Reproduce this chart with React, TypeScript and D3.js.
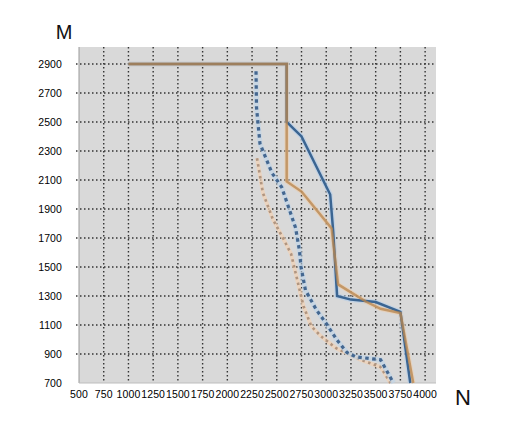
import React from "react";
import * as d3 from "d3";

type Pt = [number, number];

const xTicks = [500, 750, 1000, 1250, 1500, 1750, 2000, 2250, 2500, 2750, 3000, 3250, 3500, 3750, 4000];
const yTicks = [700, 900, 1100, 1300, 1500, 1700, 1900, 2100, 2300, 2500, 2700, 2900];

const blueSolid: Pt[] = [
  [1000, 2900], [2600, 2900], [2600, 2500], [2750, 2400], [3040, 2000], [3070, 1750],
  [3110, 1300], [3250, 1275], [3500, 1258], [3750, 1190], [3850, 700],
];
const orangeSolid: Pt[] = [
  [1000, 2900], [2600, 2900], [2600, 2090], [2750, 2020], [3055, 1765], [3090, 1550],
  [3120, 1380], [3400, 1262], [3550, 1212], [3750, 1182], [3880, 700],
];
const blueDashed: Pt[] = [
  [2290, 2850], [2295, 2600], [2330, 2350], [2450, 2150], [2550, 2050], [2615, 1920],
  [2690, 1770], [2730, 1610], [2745, 1500], [2790, 1340], [2900, 1205], [3005, 1105],
  [3105, 1000], [3210, 910], [3300, 880], [3550, 860], [3680, 700],
];
const orangeDashed: Pt[] = [
  [2300, 2250], [2360, 2010], [2460, 1830], [2570, 1690], [2645, 1590], [2690, 1460],
  [2770, 1230], [2850, 1090], [2950, 1020], [3100, 940], [3350, 860], [3550, 810], [3650, 700],
];

export default function App() {
  const x = d3.scaleLinear().domain([500, 4110]).range([79, 436]);
  const y = d3.scaleLinear().domain([700, 3017]).range([383, 47]);
  const line = d3
    .line<Pt>()
    .x((d) => x(d[0]))
    .y((d) => y(d[1]));

  const font = "'Liberation Sans', Arial, sans-serif";

  return (
    <svg
      width={525}
      height={425}
      style={{ position: "absolute", left: 0, top: 0, background: "#fff" }}
    >
      <rect x={x(500)} y={y(3017)} width={x(4110) - x(500)} height={y(700) - y(3017)} fill="#d9d9d9" />

      {/* grid */}
      {xTicks.slice(1).map((t) => (
        <line key={"gx" + t} x1={x(t)} x2={x(t)} y1={y(3017)} y2={y(700)}
          stroke="#333" strokeWidth={1.4} strokeDasharray="1.5,2.5" />
      ))}
      {yTicks.slice(1).map((t) => (
        <line key={"gy" + t} x1={x(500) - 3} x2={x(4110)} y1={y(t)} y2={y(t)}
          stroke="#333" strokeWidth={1.4} strokeDasharray="1.5,2.5" />
      ))}

      {/* axes */}
      <line x1={x(500)} x2={x(500)} y1={y(3017)} y2={y(700)} stroke="#9a9a9a" strokeWidth={1} />
      <line x1={x(500)} x2={x(4110)} y1={y(700)} y2={y(700)} stroke="#bdbdbd" strokeWidth={1} />

      {/* dashed series */}
      <path d={line(orangeDashed) ?? ""} fill="none" stroke="#f2d2b4" strokeWidth={4} opacity={0.7} />
      <path d={line(orangeDashed) ?? ""} fill="none" stroke="#b09580" strokeWidth={2.6}
        strokeDasharray="2.5,3.5" />
      <path d={line(blueDashed) ?? ""} fill="none" stroke="#bcd3ea" strokeWidth={5} opacity={0.6} />
      <path d={line(blueDashed) ?? ""} fill="none" stroke="#446790" strokeWidth={3.2}
        strokeDasharray="3.5,3.5" />

      {/* solid series */}
      <path d={line(blueSolid) ?? ""} fill="none" stroke="#b7cfe8" strokeWidth={5} opacity={0.7} />
      <path d={line(orangeSolid) ?? ""} fill="none" stroke="#eecba6" strokeWidth={4.5} opacity={0.6} />
      <path d={line(blueSolid) ?? ""} fill="none" stroke="#3b6592" strokeWidth={2.5} />
      <path d={line(orangeSolid) ?? ""} fill="none" stroke="#b8874f" strokeWidth={2.5} opacity={0.78} />

      {/* tick labels */}
      {yTicks.map((t) => (
        <text key={"ly" + t} x={62} y={y(t)} dy="0.36em" textAnchor="end"
          fontFamily={font} fontSize={10.5} fill="#000" letterSpacing={0.1}>
          {t}
        </text>
      ))}
      {xTicks.map((t) => (
        <text key={"lx" + t} x={x(t)} y={398} textAnchor="middle"
          fontFamily={font} fontSize={10.5} fill="#000" letterSpacing={0.1}>
          {t}
        </text>
      ))}

      <text x={64} y={39} textAnchor="middle" fontFamily={font} fontSize={20} fill="#111">M</text>
      <text x={463} y={405} textAnchor="middle" fontFamily={font} fontSize={22} fill="#111">N</text>
    </svg>
  );
}
